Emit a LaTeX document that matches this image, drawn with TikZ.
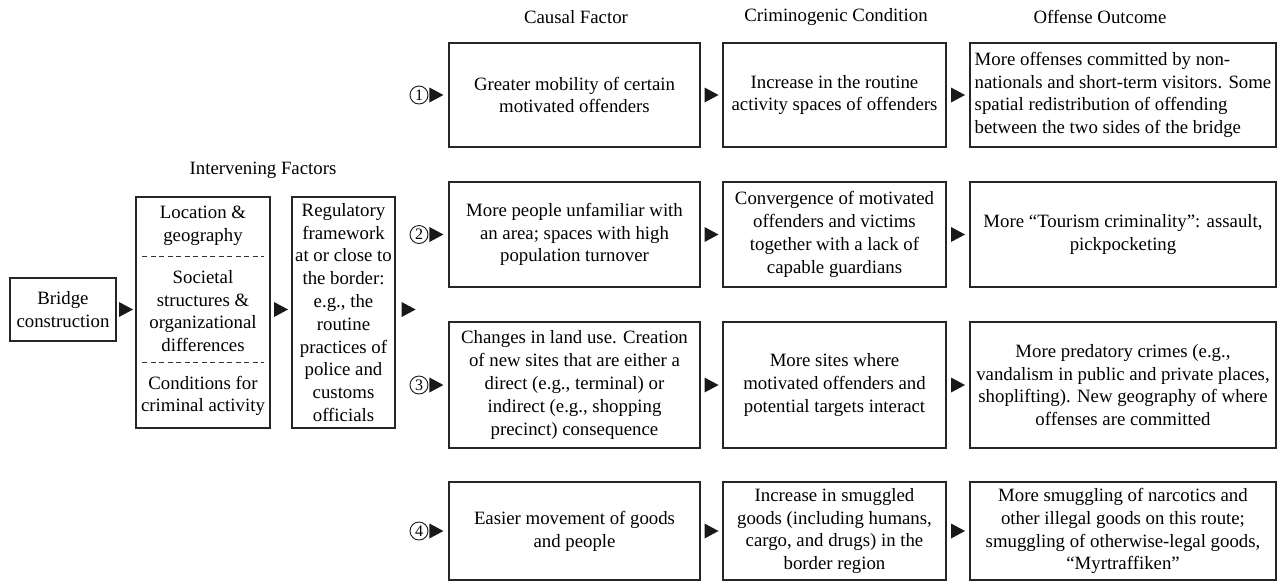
\documentclass[tikz,border=0pt]{standalone}
\usepackage{fontspec}
\setmainfont{Liberation Serif}
\usetikzlibrary{shapes.geometric,calc}
\newcommand\bodyfs{\fontsize{18.8}{22.8}\selectfont}
\begin{document}
\begin{tikzpicture}[x=1pt,y=-1pt,
  box/.style={draw=black!85, line width=1.3pt, align=center, font=\bodyfs, inner sep=2pt},
  txt/.style={align=center, font=\bodyfs, inner sep=0pt},
  tri/.style={rectangle, draw=none, minimum width=14pt, minimum height=15pt, inner sep=0pt,
    path picture={\fill[black!90] (path picture bounding box.north west) -- (path picture bounding box.east)
      -- (path picture bounding box.south west) -- cycle;}},
  num/.style={circle, draw=black!90, line width=0.9pt, inner sep=0pt, minimum size=18pt,
    font=\fontsize{16}{16}\selectfont},
  sep/.style={dash pattern=on 5pt off 3.5pt, line width=0.9pt, draw=black!80}]
\useasboundingbox (0,0) rectangle (1277,582);

% headers
\node[txt] (hcause) at (576,17) {Causal Factor};
\node[txt] (hcrim) at (836,17) {Criminogenic Condition};
\node[txt] (hout) at (1100,17) {Offense Outcome};
\node[txt] (hint) at (263,170) {Intervening Factors};

% left part
\node[box, minimum width=106pt, minimum height=63pt] (bridge) at (63,309.5) {Bridge\\construction};
\node[box, minimum width=134pt, minimum height=231pt] (interv) at (203,312.5) {};
\node[txt] (loc) at (203,226) {Location \&\\geography};
\node[txt] (soc) at (203,311) {Societal\\structures \&\\organizational\\differences};
\node[txt] (cond) at (203,396) {Conditions for\\criminal activity};
\draw[sep] ($(interv.north west)+(7,60)$) -- ($(interv.north east)+(-7,60)$);
\draw[sep] ($(interv.north west)+(7,166)$) -- ($(interv.north east)+(-7,166)$);
\node[box, minimum width=103pt, minimum height=231pt, inner sep=1pt] (reg) at (343.5,312.5)
  {Regulatory\\framework\\at or close to\\the border:\\e.g., the\\routine\\practices of\\police and\\customs\\officials};

\path (bridge.east) -- node[tri] (t0) {} (bridge.east -| interv.west);
\path (bridge.east -| interv.east) -- node[tri] (t1) {} (bridge.east -| reg.west);
\node[tri] (t2) at ($(reg.east |- bridge.east)+(13,0)$) {};

% row 1
\node[box, minimum width=251pt, minimum height=104pt] (c1) at (574.5,95)
  {Greater mobility of certain\\motivated offenders};
\node[box, minimum width=223pt, minimum height=104pt] (k1) at (834.5,95)
  {Increase in the routine\\activity spaces of offenders};
\node[box, minimum width=306pt, minimum height=104pt, align=left] (o1) at (1123,95)
  {More offenses committed by non-\\nationals and short-term visitors. Some\\spatial redistribution of offending\\between the two sides of the bridge};

% row 2
\node[box, minimum width=251pt, minimum height=105pt] (c2) at (574.5,234.5)
  {More people unfamiliar with\\an area; spaces with high\\population turnover};
\node[box, minimum width=223pt, minimum height=105pt] (k2) at (834.5,234.5)
  {Convergence of motivated\\offenders and victims\\together with a lack of\\capable guardians};
\node[box, minimum width=306pt, minimum height=105pt] (o2) at (1123,234.5)
  {More ``Tourism criminality'': assault,\\pickpocketing};

% row 3
\node[box, minimum width=251pt, minimum height=126pt] (c3) at (574.5,385)
  {Changes in land use. Creation\\of new sites that are either a\\direct (e.g., terminal) or\\indirect (e.g., shopping\\precinct) consequence};
\node[box, minimum width=223pt, minimum height=126pt] (k3) at (834.5,385)
  {More sites where\\motivated offenders and\\potential targets interact};
\node[box, minimum width=306pt, minimum height=126pt] (o3) at (1123,385)
  {More predatory crimes (e.g.,\\vandalism in public and private places,\\shoplifting). New geography of where\\offenses are committed};

% row 4
\node[box, minimum width=251pt, minimum height=98pt] (c4) at (574.5,531)
  {Easier movement of goods\\and people};
\node[box, minimum width=223pt, minimum height=98pt] (k4) at (834.5,531)
  {Increase in smuggled\\goods (including humans,\\cargo, and drugs) in the\\border region};
\node[box, minimum width=306pt, minimum height=98pt] (o4) at (1123,531)
  {More smuggling of narcotics and\\other illegal goods on this route;\\smuggling of otherwise-legal goods,\\``Myrtraffiken''};

% numbers and arrowheads
\foreach \i in {1,2,3,4}{
  \node[num] (n\i) at (419,0 |- c\i) {\i};
  \path (n\i) -- node[tri, pos=0.4] {} (c\i);
  \path (c\i) -- node[tri] {} (k\i);
  \path (k\i) -- node[tri] {} (o\i);
}
\end{tikzpicture}
\end{document}
